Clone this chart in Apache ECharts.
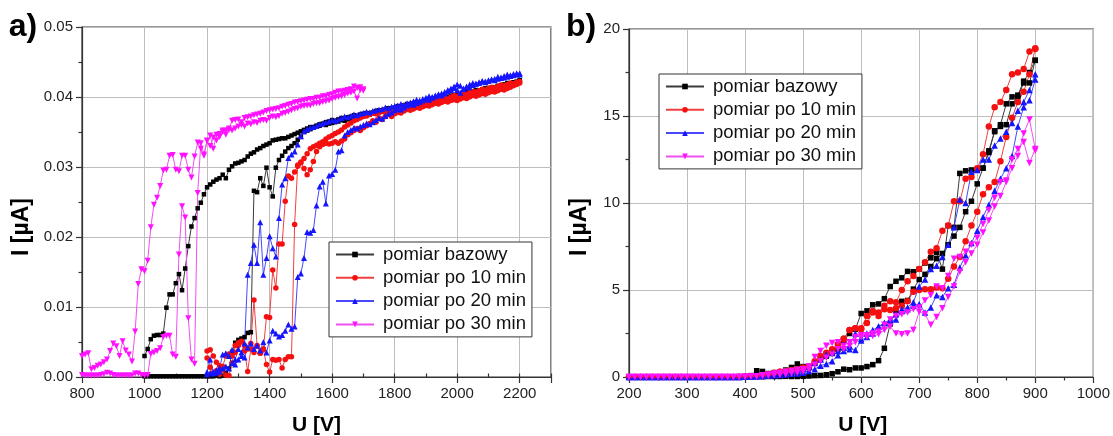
<!DOCTYPE html>
<html>
<head>
<meta charset="utf-8">
<script src="https://cdn.jsdelivr.net/npm/echarts@6/dist/echarts.min.js"></script>
<style>
  html, body { margin: 0; padding: 0; background: #fff; }
  #chart { width: 1113px; height: 436px; }
</style>
</head>
<body>
<div id="chart"></div>
<script>
// Series names (shared by both panels)
const seriesNames = ['pomiar bazowy', 'pomiar po 10 min', 'pomiar po 20 min', 'pomiar po 30 min'];

// Sweep step of the supply voltage [V]
const STEP = 10;

// ---------- Panel a) : current I [µA] sampled every 10 V ----------
// pomiar bazowy: rising sweep 1000 -> 2200 V
const aBazowyUp = [
  0.0001,0.0001,0.0001,0.0001,0.0001,0.0001,0.0001,0.0001,0.0001,0.0001,
  0.0001,0.0001,0.0001,0.0001,0.0001,0.0001,0.0001,0.0001,0.0001,0.0001,
  0.0001,0.0001,0.0001,0.0002,0.0001,0.0002,0.0006,0.0012,0.0036,0.0049,
  0.0053,0.0055,0.0057,0.0063,0.0064,0.0266,0.0264,0.0284,0.0273,0.0299,
  0.0271,0.0258,0.0299,0.0310,0.0316,0.0322,0.0327,0.0330,0.0334,0.0339,
  0.0343,0.0350,0.0352,0.0354,0.0357,0.0359,0.0361,0.0362,0.0364,0.0365,
  0.0367,0.0366,0.0368,0.0370,0.0369,0.0371,0.0372,0.0374,0.0373,0.0375,
  0.0376,0.0377,0.0376,0.0378,0.0380,0.0381,0.0380,0.0382,0.0384,0.0383,
  0.0385,0.0387,0.0386,0.0388,0.0390,0.0389,0.0391,0.0392,0.0391,0.0393,
  0.0395,0.0394,0.0396,0.0398,0.0397,0.0399,0.0401,0.0400,0.0402,0.0403,
  0.0404,0.0403,0.0405,0.0407,0.0406,0.0408,0.0410,0.0409,0.0411,0.0412,
  0.0413,0.0412,0.0414,0.0416,0.0415,0.0417,0.0419,0.0418,0.0420,0.0421,
  0.0423
];
// pomiar bazowy: falling sweep 2200 -> 1000 V
const aBazowyDown = [
  0.0424,0.0422,0.0421,0.0419,0.0420,0.0418,0.0416,0.0415,0.0414,0.0412,
  0.0411,0.0412,0.0410,0.0408,0.0409,0.0407,0.0405,0.0404,0.0405,0.0403,
  0.0402,0.0400,0.0401,0.0399,0.0397,0.0398,0.0396,0.0395,0.0394,0.0393,
  0.0394,0.0392,0.0390,0.0391,0.0389,0.0388,0.0386,0.0387,0.0385,0.0384,
  0.0383,0.0382,0.0380,0.0381,0.0379,0.0378,0.0376,0.0377,0.0375,0.0374,
  0.0373,0.0372,0.0370,0.0371,0.0369,0.0368,0.0366,0.0367,0.0365,0.0364,
  0.0363,0.0362,0.0360,0.0361,0.0359,0.0358,0.0356,0.0357,0.0355,0.0353,
  0.0351,0.0349,0.0347,0.0345,0.0343,0.0341,0.0341,0.0340,0.0339,0.0338,
  0.0334,0.0332,0.0330,0.0327,0.0325,0.0321,0.0319,0.0315,0.0310,0.0308,
  0.0306,0.0305,0.0301,0.0296,0.0284,0.0289,0.0284,0.0282,0.0279,0.0275,
  0.0271,0.0261,0.0249,0.0241,0.0227,0.0215,0.0187,0.0155,0.0124,0.0147,
  0.0134,0.0118,0.0118,0.0099,0.0062,0.0060,0.0060,0.0059,0.0054,0.0040,
  0.0030
];
// pomiar po 10 min: 1200 -> 2200 V
const aMin10Up = [
  0.0027,0.0014,0.0006,0.0009,0.0004,0.0010,0.0003,0.0002,0.0020,0.0045,
  0.0049,0.0051,0.0037,0.0008,0.0040,0.0035,0.0044,0.0034,0.0039,0.0018,
  0.0007,0.0025,0.0024,0.0025,0.0013,0.0025,0.0029,0.0029,0.0218,0.0303,
  0.0306,0.0298,0.0289,0.0296,0.0308,0.0322,0.0329,0.0332,0.0334,0.0333,
  0.0334,0.0336,0.0334,0.0337,0.0340,0.0346,0.0349,0.0352,0.0355,0.0352,
  0.0356,0.0359,0.0362,0.0366,0.0364,0.0370,0.0368,0.0372,0.0375,0.0372,
  0.0376,0.0378,0.0377,0.0380,0.0382,0.0381,0.0383,0.0385,0.0384,0.0386,
  0.0388,0.0387,0.0389,0.0391,0.0390,0.0392,0.0394,0.0393,0.0395,0.0396,
  0.0395,0.0397,0.0399,0.0398,0.0400,0.0402,0.0401,0.0403,0.0405,0.0404,
  0.0406,0.0408,0.0407,0.0409,0.0411,0.0410,0.0412,0.0414,0.0416,0.0418,
  0.0420
];
// pomiar po 10 min: 2200 -> 1200 V
const aMin10Down = [
  0.0422,0.0421,0.0419,0.0420,0.0418,0.0416,0.0417,0.0415,0.0413,0.0414,
  0.0412,0.0410,0.0411,0.0409,0.0407,0.0408,0.0406,0.0404,0.0405,0.0403,
  0.0401,0.0402,0.0400,0.0398,0.0399,0.0397,0.0396,0.0394,0.0395,0.0393,
  0.0392,0.0393,0.0391,0.0389,0.0390,0.0388,0.0386,0.0387,0.0385,0.0384,
  0.0382,0.0383,0.0381,0.0379,0.0380,0.0378,0.0376,0.0377,0.0375,0.0373,
  0.0372,0.0370,0.0368,0.0366,0.0363,0.0360,0.0357,0.0353,0.0350,0.0348,
  0.0345,0.0343,0.0340,0.0336,0.0334,0.0331,0.0329,0.0326,0.0319,0.0312,
  0.0307,0.0301,0.0293,0.0284,0.0287,0.0251,0.0190,0.0190,0.0127,0.0153,
  0.0085,0.0086,0.0040,0.0034,0.0045,0.0110,0.0048,0.0040,0.0045,0.0050,
  0.0045,0.0035,0.0030,0.0033,0.0030,0.0015,0.0016,0.0021,0.0030,0.0039,
  0.0037
];
// pomiar po 20 min: 1200 -> 2200 V
const aMin20Up = [
  0.0004,0.0006,0.0005,0.0006,0.0008,0.0012,0.0015,0.0012,0.0020,0.0018,
  0.0025,0.0030,0.0028,0.0042,0.0048,0.0040,0.0045,0.0038,0.0050,0.0035,
  0.0052,0.0066,0.0062,0.0058,0.0060,0.0066,0.0075,0.0069,0.0072,0.0143,
  0.0148,0.0170,0.0207,0.0206,0.0210,0.0245,0.0272,0.0279,0.0248,0.0288,
  0.0290,0.0296,0.0322,0.0324,0.0345,0.0350,0.0353,0.0356,0.0355,0.0358,
  0.0360,0.0362,0.0361,0.0364,0.0367,0.0370,0.0369,0.0373,0.0376,0.0378,
  0.0381,0.0383,0.0382,0.0385,0.0388,0.0390,0.0389,0.0391,0.0393,0.0395,
  0.0397,0.0396,0.0399,0.0401,0.0403,0.0402,0.0405,0.0408,0.0410,0.0413,
  0.0410,0.0406,0.0412,0.0415,0.0414,0.0417,0.0419,0.0420,0.0422,0.0421,
  0.0423,0.0425,0.0424,0.0426,0.0428,0.0430,0.0429,0.0431,0.0433,0.0432,
  0.0434
];
// pomiar po 20 min: 2200 -> 1200 V
const aMin20Down = [
  0.0432,0.0434,0.0431,0.0430,0.0432,0.0428,0.0427,0.0429,0.0426,0.0425,
  0.0424,0.0422,0.0423,0.0421,0.0419,0.0420,0.0418,0.0414,0.0411,0.0416,
  0.0418,0.0415,0.0412,0.0410,0.0407,0.0405,0.0404,0.0402,0.0400,0.0401,
  0.0399,0.0397,0.0395,0.0396,0.0394,0.0392,0.0391,0.0389,0.0390,0.0388,
  0.0387,0.0386,0.0384,0.0385,0.0383,0.0382,0.0381,0.0380,0.0378,0.0379,
  0.0377,0.0376,0.0374,0.0375,0.0373,0.0371,0.0372,0.0370,0.0368,0.0366,
  0.0367,0.0365,0.0364,0.0362,0.0361,0.0359,0.0357,0.0356,0.0354,0.0351,
  0.0344,0.0332,0.0322,0.0318,0.0313,0.0284,0.0275,0.0227,0.0172,0.0184,
  0.0201,0.0170,0.0146,0.0221,0.0163,0.0189,0.0163,0.0146,0.0048,0.0035,
  0.0040,0.0025,0.0039,0.0030,0.0034,0.0032,0.0013,0.0010,0.0007,0.0025,
  0.0007
];
// pomiar po 30 min: 800 -> 1700 V
const aMin30Up = [
  0.0003,0.0002,0.0002,0.0002,0.0002,0.0002,0.0003,0.0004,0.0006,0.0005,
  0.0003,0.0002,0.0002,0.0002,0.0002,0.0002,0.0002,0.0005,0.0005,0.0003,
  0.0002,0.0003,0.0033,0.0035,0.0037,0.0041,0.0057,0.0059,0.0059,0.0032,
  0.0029,0.0175,0.0244,0.0228,0.0084,0.0025,0.0019,0.0263,0.0334,0.0318,
  0.0338,0.0330,0.0342,0.0338,0.0347,0.0350,0.0352,0.0353,0.0352,0.0355,
  0.0358,0.0360,0.0358,0.0362,0.0361,0.0364,0.0363,0.0366,0.0367,0.0366,
  0.0370,0.0372,0.0371,0.0373,0.0376,0.0377,0.0379,0.0381,0.0383,0.0384,
  0.0386,0.0387,0.0388,0.0388,0.0390,0.0391,0.0391,0.0393,0.0394,0.0395,
  0.0397,0.0399,0.0400,0.0401,0.0403,0.0405,0.0406,0.0408,0.0398,0.0410,
  0.0409
];
// pomiar po 30 min: 1700 -> 800 V
const aMin30Down = [
  0.0411,0.0414,0.0413,0.0415,0.0411,0.0410,0.0409,0.0408,0.0408,0.0406,
  0.0404,0.0403,0.0401,0.0401,0.0399,0.0399,0.0397,0.0397,0.0396,0.0395,
  0.0394,0.0393,0.0392,0.0390,0.0389,0.0387,0.0386,0.0384,0.0383,0.0382,
  0.0381,0.0380,0.0378,0.0376,0.0375,0.0374,0.0372,0.0371,0.0370,0.0364,
  0.0368,0.0367,0.0366,0.0355,0.0346,0.0352,0.0343,0.0346,0.0326,0.0345,
  0.0337,0.0316,0.0326,0.0335,0.0315,0.0285,0.0296,0.0316,0.0316,0.0294,
  0.0296,0.0317,0.0316,0.0296,0.0295,0.0273,0.0256,0.0246,0.0214,0.0166,
  0.0151,0.0154,0.0133,0.0065,0.0022,0.0032,0.0038,0.0051,0.0030,0.0044,
  0.0048,0.0037,0.0025,0.0021,0.0018,0.0016,0.0013,0.0011,0.0034,0.0032,
  0.0030
];

// ---------- Panel b) : current I [µA] sampled every 10 V, 200 -> 900 -> 200 V ----------
const bBazowyUp = [
  0,0,0,0,0,0,0,0,0,0,
  0,0,0,0,0,0,0,0,0,0.01,
  0.02,0.03,0.03,0.03,0.03,0.03,0.03,0.04,0.03,0.03,
  0.04,0.06,0.08,0.09,0.13,0.19,0.30,0.45,0.42,0.52,
  0.52,0.60,0.71,0.94,1.65,3.05,3.80,4.35,4.40,5.05,
  5.60,5.90,6.35,6.80,7.10,7.60,8.10,8.60,9.50,10.10,
  11.10,12.00,12.90,14.15,14.40,14.50,15.70,16.10,16.90,16.90,
  18.20
];
const bBazowyDown = [
  18.20,17.50,17.00,16.20,16.10,15.70,14.50,14.10,13.00,12.00,
  11.90,11.90,11.85,11.70,8.60,8.70,6.20,7.15,6.85,6.55,
  6.20,6.05,6.07,5.70,5.50,5.20,4.50,4.20,4.15,3.80,
  3.65,2.75,2.50,2.10,1.60,1.35,1.20,1.00,0.80,0.60,
  0.60,0.75,0.55,0.40,0.30,0.25,0.20,0.32,0.36,0.08,
  0.04,0.02,0.01,0,0,0,0,0,0,0,
  0,0,0,0,0,0,0,0,0,0,
  0
];
const bMin10Up = [
  0,0,0,0,0,0,0,0,0,0,
  0,0,0,0,0,0,0,0,0,0.01,
  0.02,0.03,0.04,0.05,0.10,0.20,0.30,0.32,0.35,0.40,
  0.45,0.55,0.80,1.10,1.35,1.60,1.80,2.20,2.70,2.80,
  2.75,3.10,3.70,3.50,3.90,3.85,3.95,4.10,4.35,4.90,
  5.00,5.05,5.05,5.15,5.10,5.65,6.35,6.90,7.80,8.70,
  9.50,10.50,10.90,11.20,12.40,13.80,14.90,15.80,16.40,17.40,
  18.90
];
const bMin10Down = [
  18.85,18.70,17.70,17.50,17.40,16.50,15.80,15.50,14.40,12.80,
  12.00,11.50,11.40,10.10,10.10,8.70,8.40,7.40,7.20,6.60,
  6.20,5.80,5.50,5.00,4.30,4.35,4.10,3.70,3.80,3.50,
  2.80,2.80,2.70,2.20,1.90,1.50,1.40,1.20,0.90,0.60,
  0.55,0.45,0.40,0.35,0.30,0.25,0.15,0.05,0.03,0.02,
  0.01,0,0,0,0,0,0,0,0,0,
  0,0,0,0,0,0,0,0,0,0,
  0
];
const bMin20Up = [
  0,0,0,0,0,0,0,0,0,0,
  0,0,0,0,0,0,0,0,0,0,
  0.01,0.02,0.03,0.05,0.08,0.10,0.12,0.15,0.18,0.20,
  0.25,0.35,0.45,0.65,0.75,0.90,1.25,1.50,1.60,1.55,
  2.10,2.30,2.50,2.90,3.10,3.20,3.30,3.80,3.90,4.10,
  4.20,3.70,4.00,4.70,4.60,5.10,5.30,6.30,7.00,7.70,
  8.40,9.20,9.90,10.70,11.40,12.00,12.70,14.40,15.50,15.90,
  17.10
];
const bMin20Down = [
  17.40,16.50,15.80,15.30,14.60,14.10,13.70,13.30,12.50,12.50,
  11.90,11.80,10.00,10.20,8.60,7.60,6.90,6.40,6.20,5.60,
  5.20,4.30,4.00,3.90,3.60,3.30,3.10,2.90,2.70,2.50,
  2.20,2.50,1.80,1.70,1.50,1.40,1.30,1.00,0.80,0.60,
  0.45,0.40,0.35,0.30,0.25,0.20,0.15,0.10,0.08,0.05,
  0.02,0,0,0,0,0,0,0,0,0,
  0,0,0,0,0,0,0,0,0,0,
  0
];
const bMin30Up = [
  0,0,0,0,0,0,0,0,0,0,
  0,0,0,0,0,0,0,0,0,0,
  0.01,0.03,0.03,0.05,0.07,0.10,0.12,0.15,0.20,0.25,
  0.30,0.45,1.15,1.50,1.80,1.95,2.00,1.60,1.80,2.00,
  2.30,2.40,2.35,2.45,2.70,2.90,2.50,2.45,2.50,2.70,
  3.75,3.60,3.00,3.45,3.95,4.60,5.20,6.05,6.60,7.10,
  7.60,8.30,9.00,9.80,10.40,11.20,12.00,12.70,14.00,14.80,
  13.10
];
const bMin30Down = [
  13.00,12.30,13.50,13.10,12.50,11.30,11.20,10.30,9.60,8.80,
  8.00,7.60,7.20,6.90,6.80,5.80,5.10,5.20,4.70,4.40,
  4.00,3.90,3.70,3.60,3.50,3.30,3.00,2.60,2.50,2.30,
  2.40,2.30,2.00,1.80,1.60,1.30,1.10,0.90,0.70,0.60,
  0.45,0.40,0.35,0.30,0.25,0.20,0.15,0.10,0.05,0.03,
  0.01,0,0,0,0,0,0,0,0,0,
  0,0,0,0,0,0,0,0,0,0,
  0
];

// Pair each current reading with its sweep voltage
function sweep(fromV, toV, currents) {
  const dir = toV >= fromV ? 1 : -1;
  return currents.map((v, i) => [fromV + dir * STEP * i, v]);
}
function loop(lowV, highV, up, down) {
  return sweep(lowV, highV, up).concat(sweep(highV, lowV, down));
}

const FONT = '"Liberation Sans", Arial, Helvetica, sans-serif';
const AXIS_COLOR = '#333';
const GRID_COLOR = '#bdbdbd';

const styles = [
  { symbol: 'rect',     rotate: 0,   color: '#000000', line: '#3a3a3a', sizeA: 4.5, sizeB: 5.5 },
  { symbol: 'circle',   rotate: 0,   color: '#f51010', line: '#f04040', sizeA: 5.5, sizeB: 6.5 },
  { symbol: 'triangle', rotate: 0,   color: '#1515ff', line: '#4848ff', sizeA: 6,   sizeB: 6.5 },
  { symbol: 'triangle', rotate: 180, color: '#ff10ff', line: '#f050f0', sizeA: 6,   sizeB: 6.5 }
];

const panelA = [
  loop(1000, 2200, aBazowyUp, aBazowyDown),
  loop(1200, 2200, aMin10Up, aMin10Down),
  loop(1200, 2200, aMin20Up, aMin20Down),
  loop(800, 1700, aMin30Up, aMin30Down)
];
const panelB = [
  loop(200, 900, bBazowyUp, bBazowyDown),
  loop(200, 900, bMin10Up, bMin10Down),
  loop(200, 900, bMin20Up, bMin20Down),
  loop(200, 900, bMin30Up, bMin30Down)
];

function makeSeries(panelIdx, data, k) {
  const s = styles[k];
  return {
    type: 'line',
    name: seriesNames[k],
    xAxisIndex: panelIdx,
    yAxisIndex: panelIdx,
    data: data,
    symbol: s.symbol,
    symbolRotate: s.rotate,
    symbolSize: panelIdx === 0 ? s.sizeA : s.sizeB,
    showSymbol: true,
    showAllSymbol: true,
    lineStyle: { width: 1, color: s.line },
    itemStyle: { color: s.color },
    emphasis: { disabled: true },
    animation: false
  };
}

function valueAxis(gridIndex, min, max, interval, fmt, extra) {
  return Object.assign({
    type: 'value',
    gridIndex: gridIndex,
    min: min, max: max, interval: interval,
    axisLine: { show: true, onZero: false, lineStyle: { color: AXIS_COLOR, width: 1.2 } },
    axisTick: { show: true, inside: false, length: 6, lineStyle: { color: AXIS_COLOR, width: 1.2 } },
    minorTick: { show: true, splitNumber: 2, length: 3.5, lineStyle: { color: AXIS_COLOR, width: 1.2 } },
    splitLine: { show: true, lineStyle: { color: GRID_COLOR, width: 1 } },
    axisLabel: { fontSize: 15, color: '#222', fontFamily: FONT, margin: 9, formatter: fmt }
  }, extra || {});
}

function legendFor(left, top) {
  return {
    orient: 'vertical',
    left: left, top: top,
    padding: [3, 6, 3, 6],
    itemGap: 4.3,
    itemWidth: 38,
    itemHeight: 7,
    backgroundColor: '#fff',
    borderColor: '#333',
    borderWidth: 1,
    selectedMode: false,
    textStyle: { fontSize: 18.5, lineHeight: 18, color: '#111', fontFamily: FONT, padding: [0, 0, 0, 4] },
    data: seriesNames
  };
}

function label(text, x, y, size, rotation) {
  return {
    type: 'text', x: x, y: y, rotation: rotation || 0, z: 10,
    style: { text: text, fill: '#000', fontSize: size, fontWeight: 'bold', fontFamily: FONT,
             align: 'center', verticalAlign: 'middle' }
  };
}

const chart = echarts.init(document.getElementById('chart'), null, { renderer: 'canvas' });
chart.setOption({
  animation: false,
  backgroundColor: '#fff',
  textStyle: { fontFamily: FONT },
  grid: [
    { left: 82, top: 27, width: 469, height: 350, show: true, borderColor: AXIS_COLOR, borderWidth: 1.2, backgroundColor: 'transparent' },
    { left: 629, top: 29, width: 468, height: 348, show: true, borderColor: AXIS_COLOR, borderWidth: 1.2, backgroundColor: 'transparent' }
  ],
  xAxis: [
    valueAxis(0, 800, 2300, 200, v => (v === 2300 ? '' : String(v)), { minorTick: { show: false } }),
    valueAxis(1, 200, 1000, 100, v => String(v)),
    // short ticks every 100 V on panel a)
    {
      type: 'value', gridIndex: 0, min: 800, max: 2300, interval: 100,
      axisLine: { show: false }, splitLine: { show: false }, axisLabel: { show: false },
      axisTick: { show: true, length: 3.5, lineStyle: { color: AXIS_COLOR, width: 1.2 } }
    }
  ],
  yAxis: [
    valueAxis(0, 0, 0.05, 0.01, v => v.toFixed(2)),
    valueAxis(1, 0, 20, 5, v => String(v))
  ],
  legend: [legendFor(329, 242), legendFor(659, 74)],
  graphic: [
    label('a)', 23, 27, 32),
    label('b)', 581, 27, 32),
    label('U [V]', 316.5, 425, 21),
    label('U [V]', 862.7, 425, 21),
    label('I [µA]', 22, 227, 23, Math.PI / 2),
    label('I [µA]', 580, 227, 23, Math.PI / 2)
  ],
  series: panelA.map((d, k) => makeSeries(0, d, k)).concat(panelB.map((d, k) => makeSeries(1, d, k)))
});
</script>
</body>
</html>
